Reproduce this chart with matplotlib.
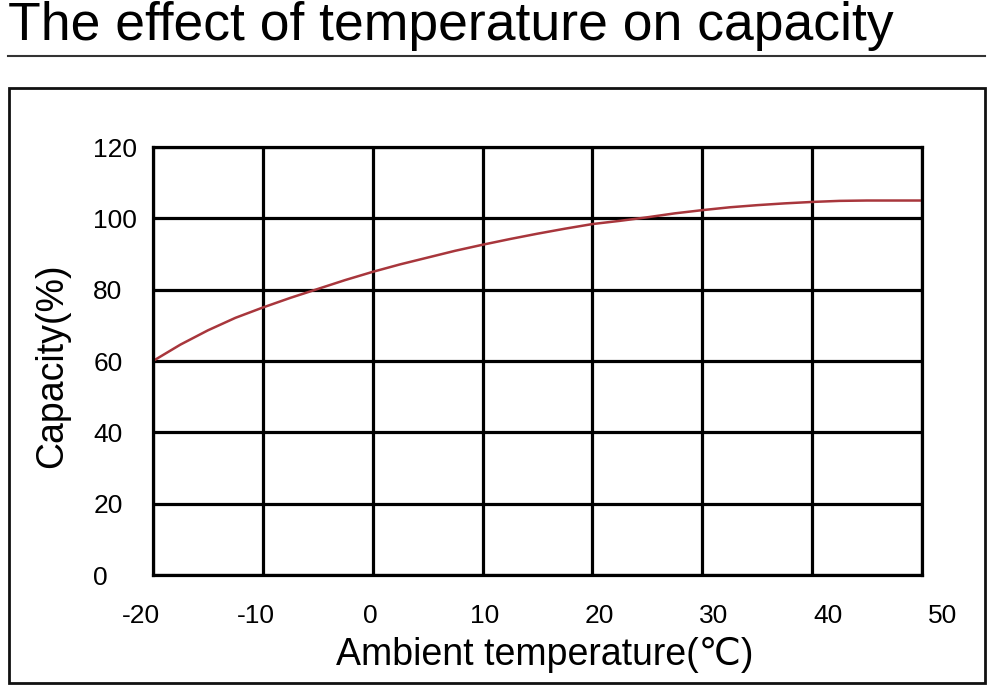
import matplotlib
matplotlib.use('Agg')
import matplotlib.pyplot as plt
from matplotlib.patches import Rectangle
from matplotlib.lines import Line2D

plt.rcParams['font.family'] = ['Liberation Sans', 'DejaVu Sans']
plt.rcParams['axes.unicode_minus'] = False

# data
temperature = [-20, -17.5, -15, -12.5, -10, -7.5, -5, -2.5, 0, 2.5, 5, 7.5, 10, 12.5,
               15, 17.5, 20, 22.5, 25, 27.5, 30, 32.5, 35, 37.5, 40, 42.5, 45, 47.5, 50]
capacity = [60.0, 64.6, 68.6, 72.1, 75.0, 77.7, 80.2, 82.7, 85.0, 87.1, 89.0, 90.9, 92.6, 94.2,
            95.7, 97.1, 98.4, 99.3, 100.3, 101.4, 102.3, 103.1, 103.7, 104.2, 104.6, 104.9,
            105.0, 105.0, 105.0]
x_ticks = [-20, -10, 0, 10, 20, 30, 40, 50]
y_ticks = [0, 20, 40, 60, 80, 100, 120]

fig = plt.figure(figsize=(9.92, 6.87), dpi=100)
ax = fig.add_axes([0.1542, 0.163, 0.7752, 0.623])

ax.plot(temperature, capacity, color='#a8363c', lw=1.8)

ax.set_xlim(-20, 50)
ax.set_ylim(0, 120)
ax.set_xticks(x_ticks)
ax.set_xticklabels([])
ax.set_yticks(y_ticks)
ax.grid(True, color='black', lw=2.3)
ax.set_axisbelow(True)
for s in ax.spines.values():
    s.set_linewidth(2.3)
ax.tick_params(length=0)
ax.tick_params(axis='y', labelsize=19, pad=43)
for lbl in ax.get_yticklabels():
    lbl.set_horizontalalignment('left')

# x labels in the original sit on a slightly wider spacing than the grid
for t in x_ticks:
    ax.text(t * 1.0423 - 0.244, -0.095, str(t), transform=ax.get_xaxis_transform(),
            ha='center', va='center', fontsize=19, clip_on=False)

ax.set_xlabel('Ambient temperature(℃)', fontsize=27)
ax.set_ylabel('Capacity(%)', fontsize=27)
ax.yaxis.set_label_coords(-0.108, 0.49)
ax.xaxis.set_label_coords(0.51, -0.145)

# title, rule and outer box
fig.text(0.008, 0.942, 'The effect of temperature on capacity', fontsize=38.5,
         ha='left', va='baseline')
fig.add_artist(Line2D([0.008, 0.993], [0.919, 0.919], transform=fig.transFigure,
                      color='#333333', lw=1.5))
fig.add_artist(Rectangle((0.009, 0.006), 0.984, 0.866, transform=fig.transFigure,
                         fill=False, edgecolor='#111111', lw=2))

fig.savefig('out.png', dpi=100)
